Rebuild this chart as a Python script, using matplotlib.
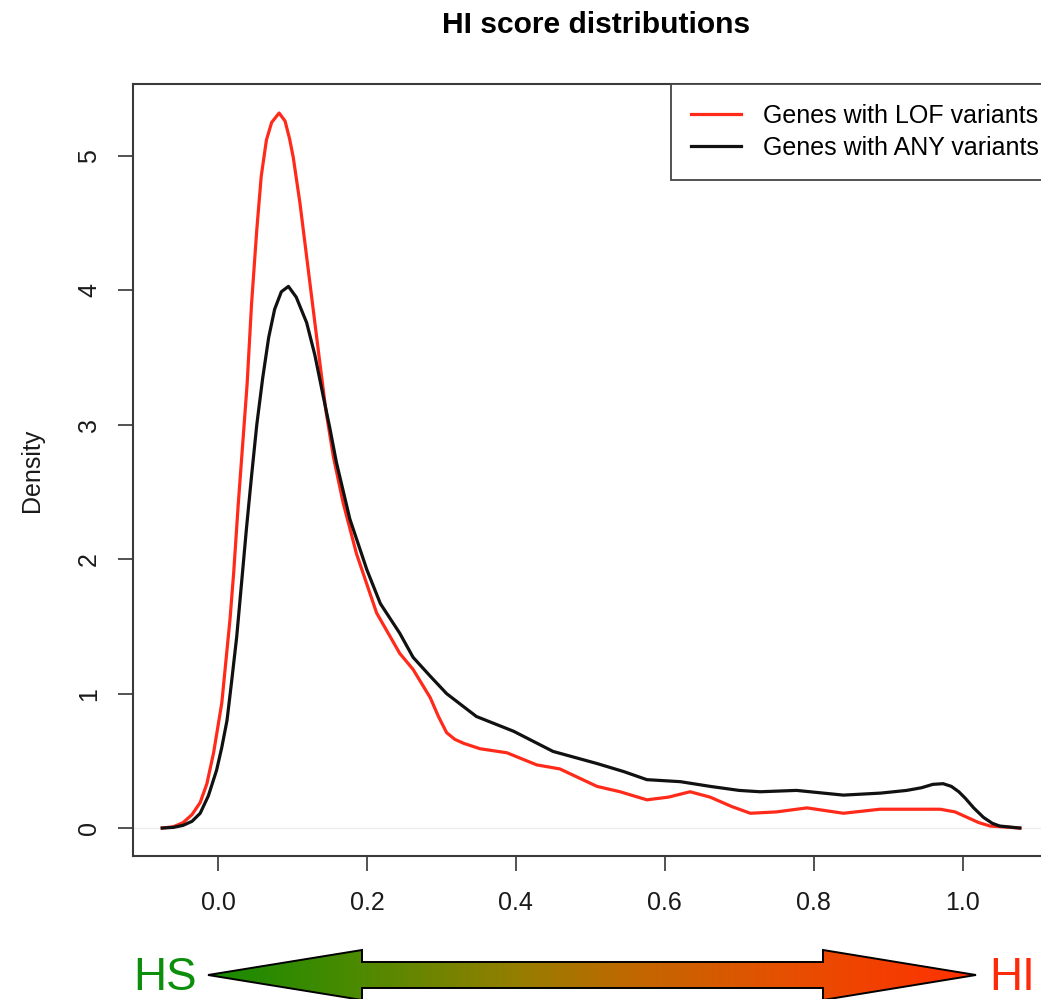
import numpy as np
import matplotlib
matplotlib.use('Agg')
import matplotlib.pyplot as plt
from matplotlib.colors import LinearSegmentedColormap
from matplotlib.patches import Polygon

plt.rcParams['font.family'] = ['Liberation Sans', 'DejaVu Sans']

# density curves (x = HI score, y = density)
lof_x = [-0.075, -0.060, -0.047, -0.035, -0.024, -0.015, -0.006, 0.005, 0.016, 0.021,
         0.027, 0.033, 0.039, 0.045, 0.052, 0.058, 0.065, 0.072, 0.082, 0.090,
         0.096, 0.101, 0.110, 0.119, 0.128, 0.137, 0.145, 0.155, 0.168, 0.186,
         0.213, 0.244, 0.262, 0.285, 0.296, 0.307, 0.318, 0.330, 0.352, 0.388,
         0.428, 0.459, 0.509, 0.540, 0.576, 0.605, 0.634, 0.661, 0.690, 0.715,
         0.750, 0.791, 0.840, 0.889, 0.930, 0.970, 0.990, 1.006, 1.022, 1.037,
         1.077]
lof_y = [0.0, 0.01, 0.04, 0.10, 0.19, 0.33, 0.56, 0.93, 1.55, 1.90,
         2.40, 2.85, 3.30, 3.90, 4.45, 4.85, 5.12, 5.25, 5.32, 5.26,
         5.13, 4.99, 4.65, 4.25, 3.85, 3.45, 3.10, 2.76, 2.42, 2.04,
         1.60, 1.30, 1.18, 0.97, 0.83, 0.71, 0.66, 0.63, 0.59, 0.56,
         0.47, 0.44, 0.31, 0.27, 0.21, 0.23, 0.27, 0.23, 0.16, 0.11,
         0.12, 0.15, 0.11, 0.14, 0.14, 0.14, 0.12, 0.08, 0.04, 0.015,
         0.0]

any_x = [-0.075, -0.060, -0.047, -0.035, -0.024, -0.013, -0.002, 0.005, 0.012, 0.018,
         0.025, 0.032, 0.038, 0.045, 0.052, 0.060, 0.068, 0.076, 0.085, 0.0945,
         0.105, 0.119, 0.130, 0.141, 0.150, 0.159, 0.177, 0.200, 0.218, 0.244,
         0.262, 0.285, 0.307, 0.347, 0.397, 0.450, 0.509, 0.545, 0.576, 0.621,
         0.661, 0.700, 0.728, 0.777, 0.840, 0.890, 0.925, 0.945, 0.960, 0.974,
         0.985, 0.995, 1.004, 1.015, 1.028, 1.040, 1.050, 1.077]
any_y = [0.0, 0.005, 0.02, 0.05, 0.11, 0.24, 0.43, 0.60, 0.80, 1.08,
         1.42, 1.85, 2.22, 2.62, 3.00, 3.35, 3.65, 3.86, 3.99, 4.03,
         3.95, 3.76, 3.52, 3.22, 2.98, 2.72, 2.30, 1.92, 1.67, 1.45,
         1.27, 1.13, 1.00, 0.83, 0.72, 0.57, 0.48, 0.42, 0.36, 0.345,
         0.31, 0.28, 0.27, 0.28, 0.245, 0.26, 0.28, 0.30, 0.325, 0.33,
         0.31, 0.27, 0.22, 0.15, 0.08, 0.035, 0.015, 0.0]

series_labels = ['Genes with LOF variants', 'Genes with ANY variants']
series_colors = ['#ff2a1a', '#111111']
x_ticks = [0.0, 0.2, 0.4, 0.6, 0.8, 1.0]
y_ticks = [0, 1, 2, 3, 4, 5]

fig = plt.figure(figsize=(10.41, 9.99), dpi=100)
ax = fig.add_axes([0.1278, 0.1431, 0.8895, 0.7728])

ax.axhline(0, color='#ececec', lw=1, zorder=1)
ax.plot(lof_x, lof_y, color=series_colors[0], lw=2.3, label=series_labels[0],
        zorder=3, solid_joinstyle='round')
ax.plot(any_x, any_y, color=series_colors[1], lw=2.3, label=series_labels[1],
        zorder=4, solid_joinstyle='round')

ax.set_xlim(-0.1142, 1.1296)
ax.set_ylim(-0.2083, 5.5357)
ax.set_xticks(x_ticks)
ax.set_xticklabels(['%.1f' % v for v in x_ticks])
ax.set_yticks(y_ticks)
ax.set_yticklabels([str(v) for v in y_ticks], rotation=90, va='center')
ax.tick_params(length=11, width=1.3, color='#444444', labelsize=18,
               labelcolor='#1a1a1a')
ax.tick_params(axis='x', pad=14)
ax.tick_params(axis='y', pad=12)
for s in ax.spines.values():
    s.set_color('#3a3a3a')
    s.set_linewidth(1.5)

ax.set_ylabel('Density', fontsize=18, labelpad=24, color='#1a1a1a')
ax.set_title('HI score distributions', fontsize=21.6, fontweight='bold', pad=37)

leg = ax.legend(loc='upper right', bbox_to_anchor=(1, 1), borderaxespad=0,
                fancybox=False, edgecolor='#444444', framealpha=1, fontsize=18,
                handlelength=2.0, handletextpad=0.9, borderpad=0.8, labelspacing=0.3)
leg.get_frame().set_linewidth(1.3)

# HS <-> HI arrow drawn on an overlay in pixel coordinates
ov = fig.add_axes([0, 0, 1, 1], zorder=5)
ov.axis('off')
verts = [(208, 975), (362, 950), (362, 962), (823, 962), (823, 950), (976, 975),
         (823, 1000), (823, 988), (362, 988), (362, 1000)]
arrow = Polygon(verts, closed=True, facecolor='none', edgecolor='black', lw=1.4, zorder=3)
ov.add_patch(arrow)
cmap = LinearSegmentedColormap.from_list('hs_hi', [
    (0.0, '#158a00'), (0.2, '#4f8a00'), (0.4, '#947e00'),
    (0.55, '#c06800'), (0.75, '#e65000'), (1.0, '#ff3000')])
img = ov.imshow(np.linspace(0, 1, 256)[None, :], extent=(208, 976, 1001, 949),
                cmap=cmap, aspect='auto', zorder=2)
img.set_clip_path(arrow)
ov.set_xlim(0, 1041)
ov.set_ylim(999, 0)

ov.text(133, 990, 'HS', color='#0d8f0d', fontsize=33, ha='left', va='baseline')
ov.text(989, 990, 'HI', color='#ff2a0a', fontsize=33, ha='left', va='baseline')

fig.savefig('out.png', dpi=100)
